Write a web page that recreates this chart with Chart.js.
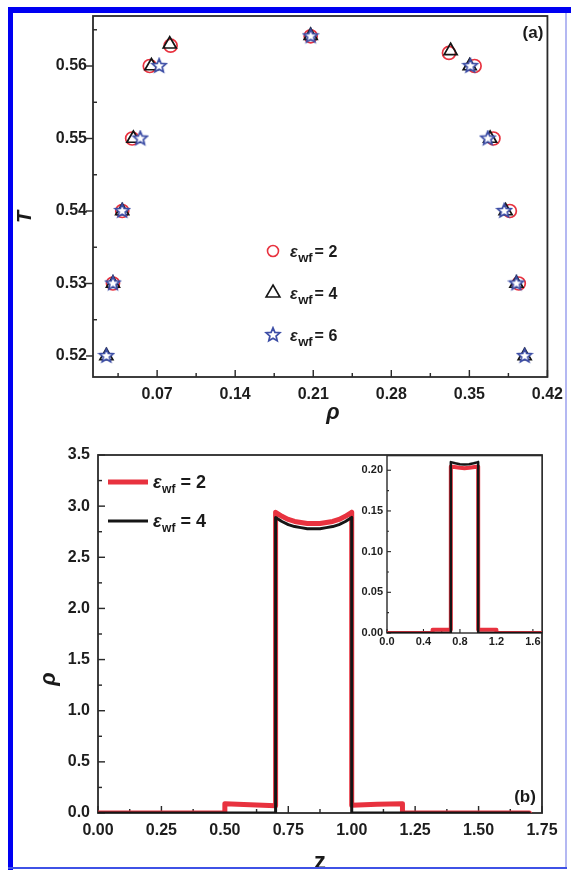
<!DOCTYPE html>
<html>
<head>
<meta charset="utf-8">
<title>Coexistence curves and density profiles</title>
<script src="https://cdn.jsdelivr.net/npm/chart.js@4.4.1/dist/chart.umd.min.js"></script>
<style>
  html, body { margin: 0; padding: 0; background: #fff; }
  #page { position: relative; width: 571px; height: 870px; overflow: hidden; background: #fff; }
  #page canvas { position: absolute; }
  .edge { position: absolute; pointer-events: none; }
</style>
</head>
<body>
<div id="page">
  <canvas id="chartA" width="571" height="430" style="left:0;top:0"></canvas>
  <canvas id="chartB" width="571" height="440" style="left:0;top:430px"></canvas>
  <canvas id="chartInset" width="231" height="215" style="left:340px;top:445px"></canvas>
  <div class="edge" style="left:8px;top:7px;width:563px;height:6px;background:#0000f2"></div>
  <div class="edge" style="left:8px;top:7px;width:5px;height:863px;background:#0000f2"></div>
  <div class="edge" style="left:565px;top:13px;width:2px;height:856px;background:#b4b8f2"></div>
  <div class="edge" style="left:8px;top:867px;width:559px;height:2px;background:#3f52e6"></div>
</div>
<script>
    /* -------------------------------------
       Data: (a) coexistence points (rho, T)
    ------------------------------------- */
    const rhoEps2 = [0.0304, 0.0387, 0.0476, 0.0634, 0.0821, 0.2077, 0.3317, 0.3547, 0.3716, 0.3863, 0.3943];
    const tEps2   = [0.53, 0.54, 0.55, 0.56, 0.5628, 0.5641, 0.5618, 0.56, 0.55, 0.54, 0.53];
    const rhoEps4 = [0.0245, 0.0304, 0.0387, 0.0487, 0.0649, 0.0813, 0.2077, 0.3332, 0.3503, 0.3686, 0.3825, 0.3922, 0.3996];
    const tEps4   = [0.52, 0.53, 0.54, 0.55, 0.56, 0.5630, 0.5642, 0.5621, 0.56, 0.55, 0.54, 0.53, 0.52];
    const rhoEps6 = [0.0245, 0.0304, 0.0387, 0.0549, 0.0718, 0.2077, 0.3509, 0.3665, 0.3813, 0.3922, 0.3996];
    const tEps6   = [0.52, 0.53, 0.54, 0.55, 0.56, 0.5641, 0.56, 0.55, 0.54, 0.53, 0.52];

    const rhoTicksA = [0.07, 0.14, 0.21, 0.28, 0.35, 0.42];
    const rhoMinorA = [0.035, 0.105, 0.175, 0.245, 0.315, 0.385];
    const tTicksA   = [0.52, 0.53, 0.54, 0.55, 0.56];
    const tMinorA   = [0.525, 0.535, 0.545, 0.555, 0.565];

    /* -------------------------------------
       Data: (b) density profiles rho(z)
    ------------------------------------- */
    const zEps2   = [0, 0.5, 0.5, 0.6, 0.7, 0.7, 0.725, 0.75, 0.775, 0.8, 0.825, 0.85, 0.875, 0.9, 0.925, 0.95, 0.975, 1.0, 1.0, 1.1, 1.2, 1.2, 1.7];
    const rhoEps2B = [0, 0, 0.09, 0.08, 0.07, 2.94, 2.90, 2.87, 2.85, 2.84, 2.83, 2.83, 2.83, 2.84, 2.85, 2.87, 2.90, 2.94, 0.075, 0.085, 0.09, 0, 0];
    const zEps4   = [0, 0.7, 0.7, 0.725, 0.75, 0.775, 0.8, 0.825, 0.85, 0.875, 0.9, 0.925, 0.95, 0.975, 1.0, 1.0, 1.7];
    const rhoEps4B = [0, 0, 2.89, 2.85, 2.82, 2.80, 2.79, 2.78, 2.78, 2.78, 2.79, 2.80, 2.82, 2.85, 2.89, 0, 0];

    const zTicksB   = [0, 0.25, 0.5, 0.75, 1.0, 1.25, 1.5, 1.75];
    const zMinorB   = [0.125, 0.375, 0.625, 0.875, 1.125, 1.375, 1.625];
    const rhoTicksB = [0, 0.5, 1.0, 1.5, 2.0, 2.5, 3.0, 3.5];
    const rhoMinorB = [0.25, 0.75, 1.25, 1.75, 2.25, 2.75, 3.25];

    // inset
    const zInEps2   = [0, 0.5, 0.5, 0.7, 0.7, 0.8, 0.85, 0.9, 1.0, 1.0, 1.2, 1.2, 1.7];
    const rhoInEps2 = [0, 0, 0.004, 0.004, 0.2045, 0.2030, 0.2025, 0.2030, 0.2045, 0.004, 0.004, 0, 0];
    const zInEps4   = [0, 0.7, 0.7, 0.75, 0.8, 0.85, 0.9, 0.95, 1.0, 1.0, 1.7];
    const rhoInEps4 = [0, 0, 0.2100, 0.2085, 0.2075, 0.2072, 0.2075, 0.2085, 0.2100, 0, 0];

    const zTicksIn   = [0, 0.4, 0.8, 1.2, 1.6];
    const zMinorIn   = [0.2, 0.6, 1.0, 1.4];
    const rhoTicksIn = [0, 0.05, 0.10, 0.15, 0.20];
    const rhoMinorIn = [0.025, 0.075, 0.125, 0.175];

    /* -------------------------------------
       Shared helpers
    ------------------------------------- */
    const FONT = '"Liberation Sans", Arial, Helvetica, sans-serif';
    const RED = '#e8323f';
    const INK = '#151515';
    const STAR_BLUE = '#3d4ea6';

    const pts = (xs, ys) => xs.map((x, i) => ({ x: x, y: ys[i] }));

    // 5-point outlined star used as a point style
    function starMarker(r, color) {
        const s = 18;
        const c = document.createElement('canvas');
        c.width = s; c.height = s;
        const g = c.getContext('2d');
        g.beginPath();
        for (let i = 0; i < 10; i++) {
            const rad = i % 2 ? r * 0.45 : r;
            const ang = -Math.PI / 2 + i * Math.PI / 5;
            g.lineTo(s / 2 + rad * Math.cos(ang), s / 2 + rad * Math.sin(ang));
        }
        g.closePath();
        g.fillStyle = '#fff';
        g.fill();
        g.strokeStyle = color;
        g.lineWidth = 1.7;
        g.stroke();
        return c;
    }
    const starImg = starMarker(7.2, STAR_BLUE);

    function axis(min, max, major, digits, size, fontPx, pad, isX) {
        return {
            type: 'linear', min: min, max: max,
            afterBuildTicks: s => { s.ticks = major.map(v => ({ value: v })); },
            afterFit: s => { if (isX) s.height = size; else s.width = size; },
            grid: { display: false, drawTicks: false },
            border: { display: false },
            ticks: {
                autoSkip: false, maxRotation: 0, padding: pad, color: '#1d1d1d',
                font: { family: FONT, size: fontPx, weight: 'bold' },
                callback: v => v.toFixed(digits)
            }
        };
    }

    // frame box, inward ticks, free text
    const decor = {
        id: 'decor',
        beforeDraw(chart, args, o) {
            if (!o.whiteArea) return;
            const a = chart.chartArea;
            chart.ctx.save();
            chart.ctx.fillStyle = '#fff';
            chart.ctx.fillRect(a.left, a.top, a.right - a.left, a.bottom - a.top);
            chart.ctx.restore();
        },
        beforeDatasetsDraw(chart, args, o) {
            const ctx = chart.ctx, a = chart.chartArea;
            const sx = chart.scales.x, sy = chart.scales.y;
            ctx.save();
            ctx.strokeStyle = '#2a2a2a';
            ctx.lineWidth = o.lw;
            ctx.strokeRect(a.left, a.top, a.right - a.left, a.bottom - a.top);
            ctx.lineWidth = o.lw * 0.8;
            const mark = (sc, vals, len) => vals.forEach(v => {
                const p = sc.getPixelForValue(v);
                ctx.beginPath();
                if (sc.isHorizontal()) { ctx.moveTo(p, a.bottom); ctx.lineTo(p, a.bottom - len); }
                else { ctx.moveTo(a.left, p); ctx.lineTo(a.left + len, p); }
                ctx.stroke();
            });
            mark(sx, o.xMajor, o.major);
            mark(sx, o.xMinor, o.minor);
            mark(sy, o.yMajor, o.yOut ? -o.major : o.major);
            mark(sy, o.yMinor, o.minor);
            ctx.restore();
        },
        afterDraw(chart, args, o) {
            const ctx = chart.ctx;
            (o.texts || []).forEach(t => {
                ctx.save();
                ctx.font = t.font;
                ctx.fillStyle = '#1a1a1a';
                ctx.textAlign = 'center';
                ctx.textBaseline = 'middle';
                ctx.translate(t.x, t.y);
                if (t.rot) ctx.rotate(t.rot);
                ctx.fillText(t.text, 0, 0);
                ctx.restore();
            });
        }
    };

    // epsilon_wf label with subscript
    function drawEps(ctx, x, y, val, size, subSize, subDrop, gap) {
        ctx.fillStyle = '#1a1a1a';
        ctx.textAlign = 'left';
        ctx.textBaseline = 'alphabetic';
        ctx.font = 'italic bold ' + size + 'px ' + FONT;
        ctx.fillText('ε', x, y);
        x += ctx.measureText('ε').width + 0.5;
        ctx.font = 'bold ' + subSize + 'px ' + FONT;
        ctx.fillText('wf', x, y + subDrop);
        x += ctx.measureText('wf').width + gap;
        ctx.font = 'bold ' + size + 'px ' + FONT;
        ctx.fillText('= ' + val, x, y);
    }

    const noChrome = { legend: { display: false }, tooltip: { enabled: false } };

    /* -------------------------------------
       1. Panel (a)
    ------------------------------------- */
    const legendA = {
        id: 'legendA',
        afterDraw(chart) {
            const ctx = chart.ctx;
            const mx = 273, rows = [251, 293, 335];
            ctx.save();
            ctx.lineWidth = 1.6;
            ctx.strokeStyle = RED;
            ctx.beginPath(); ctx.arc(mx, rows[0], 5.5, 0, Math.PI * 2); ctx.stroke();
            ctx.strokeStyle = INK;
            ctx.beginPath();
            for (let i = 0; i < 3; i++) {
                const ang = i * 2 * Math.PI / 3;
                ctx.lineTo(mx + Math.sin(ang) * 8, rows[1] - Math.cos(ang) * 8);
            }
            ctx.closePath(); ctx.stroke();
            ctx.drawImage(starImg, mx - 9, rows[2] - 9);
            ['2', '4', '6'].forEach((v, i) => drawEps(ctx, 290, rows[i] + 6, v, 16, 13, 5, 2));
            ctx.restore();
        }
    };

    new Chart(document.getElementById('chartA'), {
        type: 'scatter',
        data: {
            datasets: [{
                label: 'εwf = 2',
                data: pts(rhoEps2, tEps2),
                pointStyle: 'circle', pointRadius: 6.5, pointBorderWidth: 1.7,
                pointBorderColor: RED, pointBackgroundColor: 'rgba(0,0,0,0)',
                order: 3
            }, {
                label: 'εwf = 4',
                data: pts(rhoEps4, tEps4),
                pointStyle: 'triangle', pointRadius: 7.5, pointBorderWidth: 1.7,
                pointBorderColor: INK, pointBackgroundColor: 'rgba(0,0,0,0)',
                order: 2
            }, {
                label: 'εwf = 6',
                data: pts(rhoEps6, tEps6),
                pointStyle: starImg, pointRadius: 7,
                order: 1
            }]
        },
        options: {
            responsive: false, animation: false, events: [],
            layout: { padding: { left: 0, top: 16, right: 18, bottom: 0 } },
            scales: {
                x: axis(0.0125, 0.42, rhoTicksA, 2, 53, 16, 8, true),
                y: axis(0.5171, 0.5669, tTicksA, 2, 93, 16, 6, false)
            },
            plugins: Object.assign({
                decor: {
                    lw: 1.8, major: 7, minor: 4, yOut: true,
                    xMajor: rhoTicksA, xMinor: rhoMinorA, yMajor: tTicksA, yMinor: tMinorA,
                    texts: [
                        { text: '(a)', x: 533, y: 33, font: 'bold 17px ' + FONT },
                        { text: 'T', x: 25, y: 217, rot: -Math.PI / 2, font: 'italic bold 20px ' + FONT },
                        { text: 'ρ', x: 333, y: 413, font: 'italic bold 22px ' + FONT }
                    ]
                }
            }, noChrome)
        },
        plugins: [decor, legendA]
    });

    /* -------------------------------------
       2. Panel (b) and its inset
    ------------------------------------- */
    const legendB = {
        id: 'legendB',
        afterDraw(chart) {
            const ctx = chart.ctx;
            ctx.save();
            ctx.lineCap = 'butt';
            ctx.strokeStyle = RED; ctx.lineWidth = 5;
            ctx.beginPath(); ctx.moveTo(108, 52); ctx.lineTo(148, 52); ctx.stroke();
            ctx.strokeStyle = INK; ctx.lineWidth = 3;
            ctx.beginPath(); ctx.moveTo(108, 91); ctx.lineTo(148, 91); ctx.stroke();
            drawEps(ctx, 153, 58, '2', 18, 12, 5, 5);
            drawEps(ctx, 153, 97, '4', 18, 12, 5, 5);
            ctx.restore();
        }
    };

    const profileSet = (label, xs, ys, color, width, order) => ({
        label: label, data: pts(xs, ys),
        borderColor: color, borderWidth: width,
        pointRadius: 0, tension: 0, fill: false,
        borderJoinStyle: 'round', borderCapStyle: 'round',
        order: order
    });

    new Chart(document.getElementById('chartB'), {
        type: 'line',
        data: {
            datasets: [
                profileSet('εwf = 2', zEps2, rhoEps2B, RED, 5, 2),
                profileSet('εwf = 4', zEps4, rhoEps4B, INK, 3, 1)
            ]
        },
        options: {
            responsive: false, animation: false, events: [],
            layout: { padding: { left: 0, top: 25, right: 29, bottom: 0 } },
            scales: {
                x: axis(0, 1.75, zTicksB, 2, 57, 16, 8, true),
                y: axis(0, 3.5, rhoTicksB, 1, 98, 16, 8, false)
            },
            plugins: Object.assign({
                decor: {
                    lw: 1.8, major: 7, minor: 4,
                    xMajor: zTicksB, xMinor: zMinorB, yMajor: rhoTicksB, yMinor: rhoMinorB,
                    texts: [
                        { text: '(b)', x: 525, y: 367, font: 'bold 17px ' + FONT },
                        { text: 'ρ', x: 49, y: 249, rot: -Math.PI / 2, font: 'italic bold 22px ' + FONT },
                        { text: 'z', x: 320, y: 432, font: 'bold 24px ' + FONT }
                    ]
                }
            }, noChrome)
        },
        plugins: [decor, legendB]
    });

    new Chart(document.getElementById('chartInset'), {
        type: 'line',
        data: {
            datasets: [
                profileSet('εwf = 2', zInEps2, rhoInEps2, RED, 4, 2),
                profileSet('εwf = 4', zInEps4, rhoInEps4, INK, 2.5, 1)
            ]
        },
        options: {
            responsive: false, animation: false, events: [],
            layout: { padding: { left: 0, top: 10, right: 29, bottom: 0 } },
            scales: {
                x: axis(0, 1.7, zTicksIn, 1, 27, 11, 2, true),
                y: axis(0, 0.218, rhoTicksIn, 2, 47, 11, 4, false)
            },
            plugins: Object.assign({
                decor: {
                    whiteArea: true, lw: 1.4, major: 4, minor: 2,
                    xMajor: zTicksIn, xMinor: zMinorIn, yMajor: rhoTicksIn, yMinor: rhoMinorIn,
                    texts: []
                }
            }, noChrome)
        },
        plugins: [decor]
    });
</script>
</body>
</html>
